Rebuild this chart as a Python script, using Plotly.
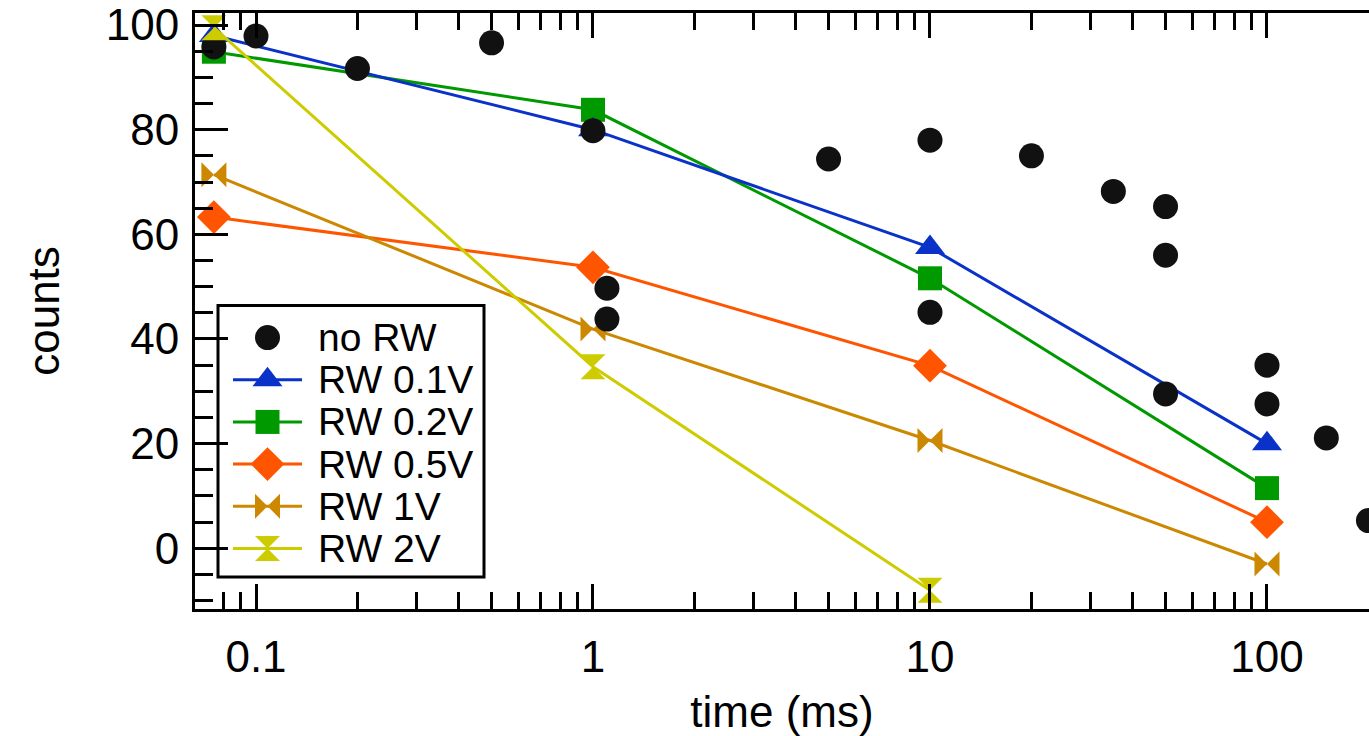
import plotly.graph_objects as go

# ---- data -------------------------------------------------------------
time_norw = [0.075, 0.1, 0.2, 0.5, 1, 1.1, 1.1, 5, 10, 10, 20, 35, 50, 50, 50,
             100, 100, 150, 200]
counts_norw = [95.8, 97.9, 91.7, 96.6, 79.8, 49.7, 43.8, 74.4, 78.0, 45.1, 75.0,
               68.2, 65.3, 56.0, 29.5, 35.0, 27.6, 21.1, 5.3]

time_rw = [0.075, 1, 10, 100]
counts_rw_01 = [98.0, 80.0, 57.5, 20.0]
counts_rw_02 = [94.9, 83.8, 51.6, 11.5]
counts_rw_05 = [63.3, 53.7, 34.9, 5.0]
counts_rw_1 = [71.4, 41.9, 20.6, -3.0]
time_rw_2 = [0.075, 1, 10]
counts_rw_2 = [99.5, 34.7, -8.0]

series_names = ["no RW", "RW 0.1V", "RW 0.2V", "RW 0.5V", "RW 1V", "RW 2V"]

x_major = [0.1, 1, 10, 100]
x_major_text = ["0.1", "1", "10", "100"]
x_minor_mid = [0.08, 0.09, 0.2, 0.3, 0.4, 0.5, 0.6, 0.7, 0.8, 0.9,
               2, 3, 4, 5, 6, 7, 8, 9, 20, 30, 40, 50, 60, 70, 80, 90, 200]
x_minor_small = [0.12, 0.14, 0.16, 0.18, 1.2, 1.4, 1.6, 1.8,
                 12, 14, 16, 18, 120, 140, 160, 180]
y_major = [0, 20, 40, 60, 80, 100]
y_minor = [-10, -5, 5, 10, 15, 25, 30, 35, 45, 50, 55, 65, 70, 75, 85, 90, 95]

# ---- styling ----------------------------------------------------------
FONT = "Liberation Sans, Arial, sans-serif"
styles = {
    "no RW":   dict(x=time_norw, y=counts_norw, color="#111111", symbol="circle", size=25, mode="markers"),
    "RW 0.1V": dict(x=time_rw, y=counts_rw_01, color="#0a32c8", symbol="triangle-up", size=26, mode="lines+markers"),
    "RW 0.2V": dict(x=time_rw, y=counts_rw_02, color="#009a00", symbol="square", size=24, mode="lines+markers"),
    "RW 0.5V": dict(x=time_rw, y=counts_rw_05, color="#ff5500", symbol="diamond", size=26, mode="lines+markers"),
    "RW 1V":   dict(x=time_rw, y=counts_rw_1, color="#cc8800", symbol="bowtie", size=25, mode="lines+markers"),
    "RW 2V":   dict(x=time_rw_2, y=counts_rw_2, color="#cccc00", symbol="hourglass", size=25, mode="lines+markers"),
}
draw_order = ["RW 0.2V", "RW 0.1V", "RW 0.5V", "RW 1V", "no RW", "RW 2V"]

fig = go.Figure()
for name in draw_order:
    s = styles[name]
    fig.add_trace(go.Scatter(
        x=s["x"], y=s["y"], name=name, mode=s["mode"],
        line=dict(color=s["color"], width=3),
        marker=dict(color=s["color"], symbol=s["symbol"], size=s["size"],
                    line=dict(width=0)),
        showlegend=False,
    ))

# ---- hand-drawn legend (overlay axes spanning 0..1) -------------------
W, H = 1369, 736
L, R, T, B = 195, 0, 11, 127
pw, ph = W - L - R, H - T - B


def fx(px):
    return (px - L) / pw


def fy(py):
    return (H - B - py) / ph


row0, row_step = 336.7, 42.3
key_x0, key_xm, key_x1, text_x = 233, 267.5, 302, 316

shapes = [dict(type="rect", xref="paper", yref="paper",
               x0=fx(218), x1=fx(484), y0=fy(577), y1=fy(304.5),
               line=dict(color="black", width=3), fillcolor="white", layer="below")]
annotations = []
for i, name in enumerate(series_names):
    s = styles[name]
    yy = fy(row0 + i * row_step)
    if "lines" in s["mode"]:
        shapes.append(dict(type="line", xref="paper", yref="paper",
                           x0=fx(key_x0), x1=fx(key_x1), y0=yy, y1=yy,
                           line=dict(color=s["color"], width=3), layer="below"))
    fig.add_trace(go.Scatter(
        x=[fx(key_xm)], y=[yy], mode="markers", xaxis="x3", yaxis="y3",
        marker=dict(color=s["color"], symbol=s["symbol"], size=s["size"], line=dict(width=0)),
        showlegend=False, hoverinfo="skip", cliponaxis=False,
    ))
    annotations.append(dict(xref="paper", yref="paper", x=fx(text_x), y=yy,
                            text=name, showarrow=False, xanchor="left", yanchor="middle",
                            font=dict(family=FONT, size=39, color="black")))

# ---- axes -------------------------------------------------------------
xr = [-1.181, 2.3027]
yr = [-11.6, 102.3]

fig.update_layout(
    width=W, height=H,
    margin=dict(l=L, r=R, t=T, b=B, pad=0),
    paper_bgcolor="white", plot_bgcolor="white",
    font=dict(family=FONT, color="black"),
    showlegend=False,
    shapes=shapes, annotations=annotations,
    xaxis=dict(
        type="log", range=xr, domain=[0, 1],
        showline=True, linecolor="black", linewidth=3, mirror="ticks",
        showgrid=False, zeroline=False,
        tickmode="array", tickvals=x_major, ticktext=x_major_text,
        ticks="inside", ticklen=25, tickwidth=3, tickcolor="black",
        tickfont=dict(family=FONT, size=44),
        ticklabelstandoff=7, ticklabeloverflow="allow",
        minor=dict(tickmode="array", tickvals=x_minor_mid, ticks="inside",
                   ticklen=17, tickwidth=3, tickcolor="black", showgrid=False),
        title=dict(text="time (ms)", font=dict(family=FONT, size=44), standoff=21),
    ),
    xaxis2=dict(
        type="log", range=xr, overlaying="x", anchor="y",
        showline=False, mirror="ticks", showgrid=False, zeroline=False,
        showticklabels=False,
        tickmode="array", tickvals=x_minor_small,
        ticks="inside", ticklen=11, tickwidth=3, tickcolor="black",
    ),
    yaxis=dict(
        range=yr, domain=[0, 1],
        showline=True, linecolor="black", linewidth=3,
        showgrid=False, zeroline=False,
        tickmode="array", tickvals=y_major,
        ticks="inside", ticklen=33, tickwidth=3, tickcolor="black",
        tickfont=dict(family=FONT, size=44),
        ticklabelstandoff=4, ticklabeloverflow="allow",
        minor=dict(tickmode="array", tickvals=y_minor, ticks="inside",
                   ticklen=18, tickwidth=3, tickcolor="black", showgrid=False),
        title=dict(text="counts", font=dict(family=FONT, size=44), standoff=33),
    ),
    yaxis2=dict(
        range=yr, overlaying="y", anchor="x", side="right",
        showline=False, showgrid=False, zeroline=False, showticklabels=False,
        tickmode="array", tickvals=y_major,
        ticks="inside", ticklen=19, tickwidth=3, tickcolor="black",
        minor=dict(tickmode="array", tickvals=y_minor, ticks="inside",
                   ticklen=4, tickwidth=3, tickcolor="black", showgrid=False),
    ),
    xaxis3=dict(range=[0, 1], overlaying="x", anchor="y3", visible=False, fixedrange=True),
    yaxis3=dict(range=[0, 1], overlaying="y", anchor="x3", visible=False, fixedrange=True),
)

fig.write_html("out.html")
